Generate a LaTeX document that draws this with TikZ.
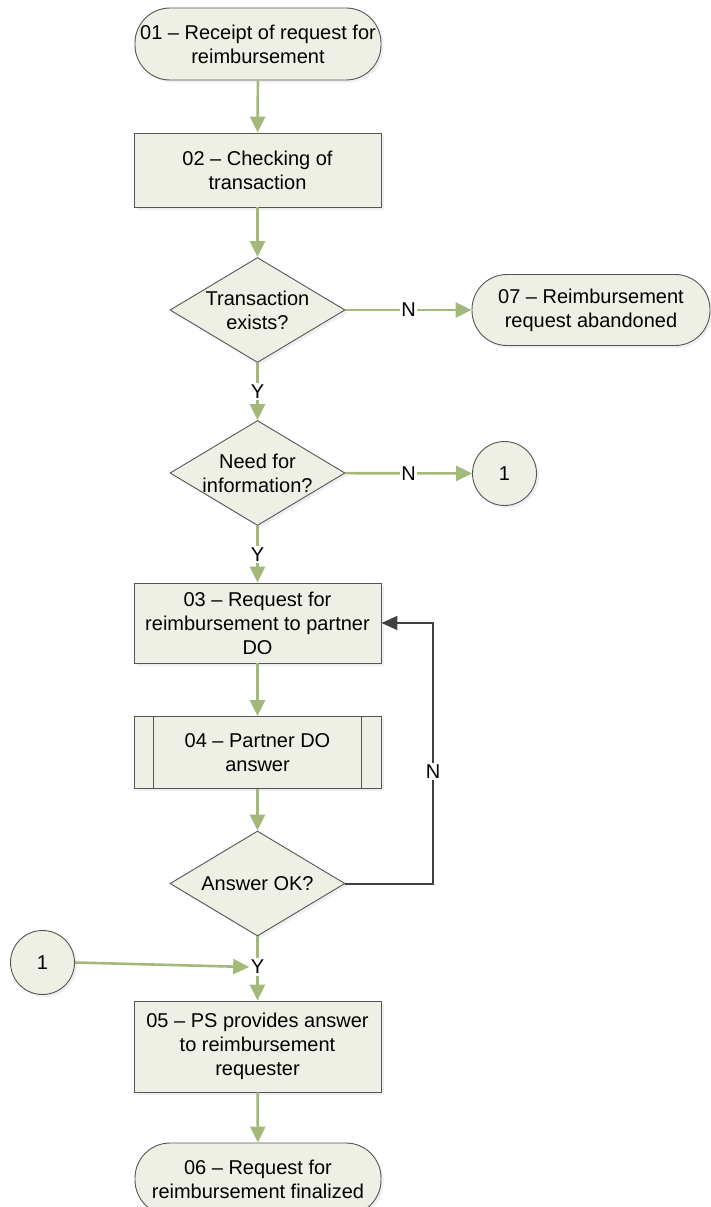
\documentclass[tikz,border=0pt]{standalone}
\usepackage{fontspec}
\setmainfont{Liberation Sans}
\usetikzlibrary{shapes.geometric,arrows.meta,shadows}
\definecolor{boxfill}{RGB}{238,240,230}
\definecolor{boxline}{RGB}{85,85,85}
\definecolor{flowgreen}{RGB}{163,185,122}
\definecolor{darkflow}{RGB}{64,64,64}
\tikzset{
  base/.style={draw=boxline, fill=boxfill, line width=0.9pt, inner sep=0pt,
    font=\fontsize{20}{24}\selectfont, align=center,
    drop shadow={opacity=0.12, shadow xshift=2.5pt, shadow yshift=-2.5pt}},
  terminal/.style={base, rectangle, rounded corners=35pt, minimum width=246pt, minimum height=72pt},
  procbox/.style={base, rectangle, minimum width=247pt},
  decision/.style={base, diamond, minimum width=175pt, minimum height=105pt},
  conn/.style={base, circle, minimum size=64pt},
  dtext/.style={font=\fontsize{20}{24}\selectfont, align=center, inner sep=0pt},
  garrow/.style={draw=flowgreen, line width=2.6pt, -{Triangle[width=15pt,length=16pt]}},
  gline/.style={draw=flowgreen, line width=2.6pt},
  darrow/.style={draw=darkflow, line width=2pt, -{Triangle[width=14pt,length=16pt]}},
  lbl/.style={fill=white, inner sep=1.5pt, font=\fontsize{20}{24}\selectfont},
}
\begin{document}
\begin{tikzpicture}[x=1pt,y=1pt]
\useasboundingbox (0,0) rectangle (710,-1207);
\fill[white] (0,0) rectangle (710,-1207);

\node[terminal] (t1) at (258,-44) {01 -- Receipt of request for\\reimbursement};
\node[procbox, minimum height=74pt] (b2) at (257.5,-170) {02 -- Checking of\\transaction};
\node[decision, label={[dtext]center:Transaction\\exists?}] (d1) at (257.5,-310) {};
\node[terminal, minimum width=238pt, minimum height=71pt] (t7) at (591,-310) {07 -- Reimbursement\\request abandoned};
\node[decision, label={[dtext]center:Need for\\information?}] (d2) at (257.5,-473) {};
\node[conn] (c2) at (504.5,-473.5) {1};
\node[procbox, minimum height=80pt] (b3) at (257.5,-623) {03 -- Request for\\reimbursement to partner\\DO};
\node[procbox, minimum height=72pt] (b4) at (257.5,-752.5) {04 -- Partner DO\\answer};
\draw[draw=boxline, line width=0.9pt] ([xshift=20pt]b4.north west) -- ([xshift=20pt]b4.south west);
\draw[draw=boxline, line width=0.9pt] ([xshift=-20pt]b4.north east) -- ([xshift=-20pt]b4.south east);
\node[decision, label={[dtext]center:Answer OK?}] (d3) at (257.5,-883.5) {};
\node[conn] (c1) at (42.5,-962.5) {1};
\node[lbl] (y3) at (257.5,-967) {Y};
\node[procbox, minimum height=91pt] (b5) at (257.5,-1046.5) {05 -- PS provides answer\\to reimbursement\\requester};
\node[terminal] (t6) at (258,-1179) {06 -- Request for\\reimbursement finalized};

\draw[garrow] (t1) -- (b2);
\draw[garrow] (b2) -- (d1);
\draw[garrow] (d1) -- node[lbl]{N} (t7);
\draw[garrow] (d1) -- node[lbl]{Y} (d2);
\draw[garrow] (d2) -- node[lbl]{N} (c2);
\draw[garrow] (d2) -- node[lbl]{Y} (b3);
\draw[garrow] (b3) -- (b4);
\draw[garrow] (b4) -- (d3);
\draw[darrow] (d3.east) -- (433,-883.5) -- node[lbl, pos=0.43]{N} (433,-623) -- (b3.east);
\draw[gline] (d3.south) -- (y3.north);
\draw[garrow] (c1.east) -- (y3.west);
\draw[garrow] (y3.south) -- (b5.north);
\draw[garrow] (b5) -- (t6);
\end{tikzpicture}
\end{document}
